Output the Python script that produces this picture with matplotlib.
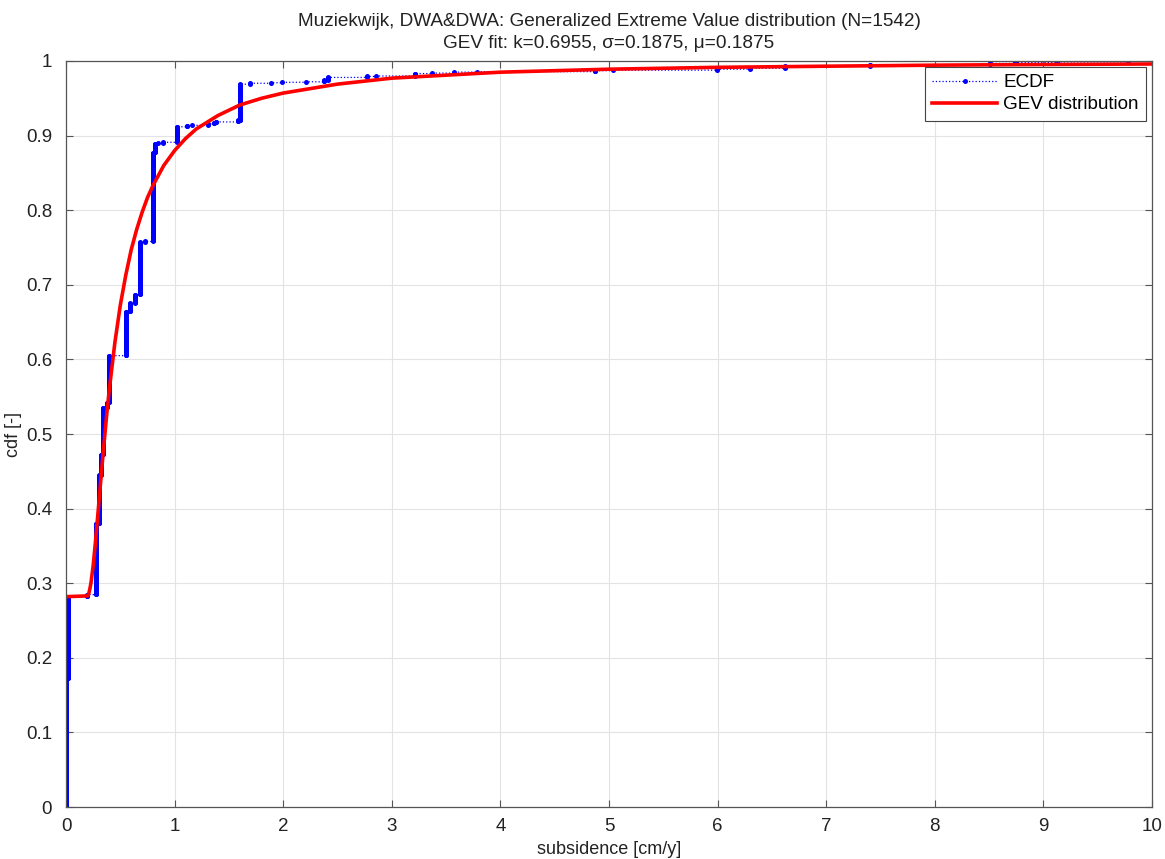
import numpy as np
import matplotlib
matplotlib.use("Agg")
import matplotlib.pyplot as plt

plt.rcParams['font.family'] = ['Liberation Sans', 'DejaVu Sans']

N = 1542

# ECDF: distinct subsidence values [cm/y] and the cdf level reached after each
ecdf_x = [0.0, 0.015, 0.19, 0.28, 0.30, 0.32, 0.34, 0.375, 0.40, 0.55, 0.59,
          0.635, 0.68, 0.73, 0.80, 0.82, 0.85, 0.89, 1.02, 1.11, 1.16, 1.31,
          1.36, 1.38, 1.58, 1.60, 1.69, 1.89, 1.99, 2.21, 2.38, 2.41, 2.77,
          2.85, 3.21, 3.37, 3.57, 3.78, 4.87, 5.04, 5.99, 6.30, 6.62, 7.40,
          8.51, 8.74, 9.13, 9.47, 9.78]
ecdf_f = [0.172, 0.282, 0.285, 0.380, 0.445, 0.472, 0.535, 0.542, 0.605, 0.664,
          0.675, 0.687, 0.757, 0.758, 0.877, 0.889, 0.890, 0.891, 0.912, 0.913,
          0.914, 0.916, 0.917, 0.918, 0.920, 0.969, 0.970, 0.971, 0.9715, 0.972,
          0.974, 0.978, 0.979, 0.980, 0.983, 0.984, 0.985, 0.986, 0.987, 0.988,
          0.989, 0.990, 0.993, 0.995, 0.997, 0.998, 0.9985, 0.999, 1.0]

# GEV fit curve
gev_x = [0.0, 0.20, 0.21, 0.22, 0.23, 0.25, 0.27, 0.30, 0.325, 0.35, 0.375,
         0.40, 0.45, 0.50, 0.55, 0.60, 0.65, 0.70, 0.75, 0.80, 0.90, 1.0, 1.1,
         1.2, 1.4, 1.6, 1.8, 2.0, 2.5, 3.0, 3.5, 4.0, 5.0, 6.0, 7.0, 8.0, 9.0,
         10.0]
gev_f = [0.282, 0.283, 0.2866, 0.293, 0.301, 0.324, 0.354, 0.404, 0.447, 0.488,
         0.527, 0.562, 0.623, 0.673, 0.713, 0.747, 0.774, 0.797, 0.817, 0.833,
         0.860, 0.880, 0.896, 0.909, 0.927, 0.941, 0.950, 0.957, 0.969, 0.977,
         0.981, 0.985, 0.989, 0.9915, 0.993, 0.9944, 0.9953, 0.996]

xticks = list(range(0, 11))
yticks = [0, 0.1, 0.2, 0.3, 0.4, 0.5, 0.6, 0.7, 0.8, 0.9, 1]
ytick_labels = ['0', '0.1', '0.2', '0.3', '0.4', '0.5', '0.6', '0.7', '0.8', '0.9', '1']

# expand to one point per sample
levels = np.round(np.array(ecdf_f) * N).astype(int)
counts = np.diff(np.concatenate([[0], levels]))
xs = np.repeat(ecdf_x, counts)
fs = np.arange(1, len(xs) + 1) / N

fig = plt.figure(figsize=(11.65, 8.59), dpi=100)
ax = fig.add_axes([0.0567, 0.0605, 0.9321, 0.8685])

ax.plot(xs, fs, color='blue', linestyle=':', linewidth=0.9, marker='o',
        markersize=3.6, markeredgewidth=0, drawstyle='steps-post', label='ECDF')
ax.plot(gev_x, gev_f, color='red', linewidth=2.6, label='GEV distribution',
        solid_joinstyle='round')

ax.set_xlim(0, 10)
ax.set_ylim(0, 1)
ax.set_xticks(xticks)
ax.set_yticks(yticks)
ax.set_yticklabels(ytick_labels)
ax.grid(True, color='#e3e3e3', linewidth=0.8)
ax.set_axisbelow(True)
ax.tick_params(direction='in', top=True, right=True, length=5, width=0.8,
               color='#555555', labelsize=13.5, labelcolor='#222222')
ax.tick_params(axis='x', pad=8)
ax.tick_params(axis='y', pad=10)
for s in ax.spines.values():
    s.set_color('#555555')
    s.set_linewidth(0.9)

ax.set_xlabel('subsidence [cm/y]', fontsize=13, color='#222222', labelpad=4)
ax.set_ylabel('cdf [-]', fontsize=13, color='#222222', labelpad=3)
ax.set_title('Muziekwijk, DWA&DWA: Generalized Extreme Value distribution (N=1542)\n'
             'GEV fit: k=0.6955, \u03c3=0.1875, \u03bc=0.1875',
             fontsize=13.7, color='#222222', pad=9, linespacing=1.45)

leg = ax.legend(loc='upper right', fontsize=13.6, numpoints=1, fancybox=False,
                framealpha=1, edgecolor='#444444', borderaxespad=0.3,
                handlelength=3.4, handletextpad=0.35, labelspacing=0.25,
                borderpad=0.4)
leg.get_frame().set_linewidth(0.8)

fig.savefig('out.png', dpi=100)
